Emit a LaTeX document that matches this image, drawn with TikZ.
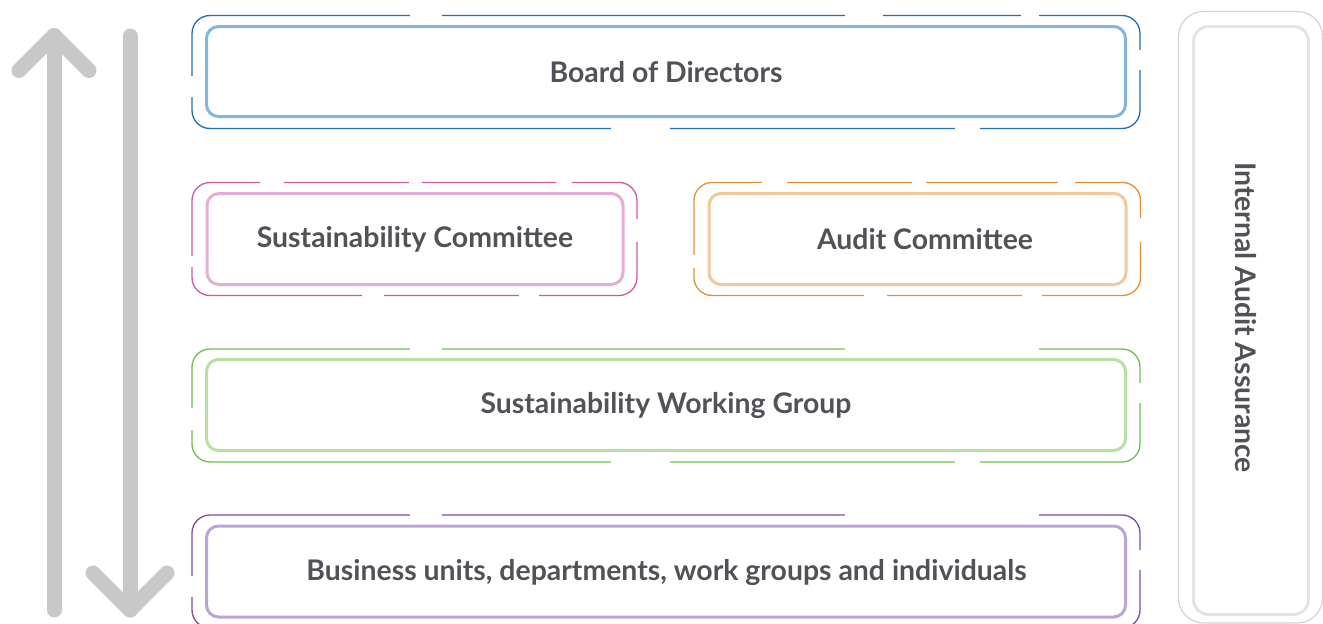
\documentclass[tikz,border=0pt]{standalone}
\usepackage{fontspec}
\setmainfont{Lato}
\definecolor{boardO}{HTML}{1F6DB4}
\definecolor{boardI}{HTML}{84B5DF}
\definecolor{scO}{HTML}{C95AA3}
\definecolor{scI}{HTML}{E5AED2}
\definecolor{acO}{HTML}{E38F35}
\definecolor{acI}{HTML}{F2C89C}
\definecolor{wgO}{HTML}{6DC04F}
\definecolor{wgI}{HTML}{B7E0A4}
\definecolor{buO}{HTML}{7A4DA5}
\definecolor{buI}{HTML}{BBA5D6}
\definecolor{panelO}{HTML}{D3D3D3}
\definecolor{panelI}{HTML}{E4E4E4}
\definecolor{arrowgray}{HTML}{C8C8C8}
\definecolor{txt}{HTML}{505257}
\tikzset{
  outerbox/.style={line width=1.3pt, rounded corners=18pt},
  innerbox/.style={draw, line width=3pt, rounded corners=12pt, inner sep=0pt},
  gap/.style={fill=white, draw=none},
  lbl/.style={text=txt, font=\bfseries\fontsize{28.4}{34}\selectfont, inner sep=0pt},
  bigarrow/.style={draw=arrowgray, line width=15pt, line cap=round, line join=round},
}
\begin{document}
\begin{tikzpicture}[x=1pt, y=-1pt]
\useasboundingbox (0,0) rectangle (1323,624);
% arrows
\coordinate (ub) at (54,610);
\coordinate (ut) at (54,35.5);
\coordinate (ul) at (19,70.5);
\coordinate (ur) at (89,70.5);
\draw[bigarrow] (ub) -- (ut);
\draw[bigarrow] (ul) -- (ut) -- (ur);
\coordinate (dt) at (130,36);
\coordinate (db) at (130,610);
\coordinate (dl) at (93,573);
\coordinate (dr) at (167,573);
\draw[bigarrow] (dt) -- (db);
\draw[bigarrow] (dl) -- (db) -- (dr);

% Board of Directors
\draw[outerbox, boardO] (192,15.5) rectangle (1140,128.5);
\fill[gap] (410,12) rectangle (442,19);
\fill[gap] (845,12) rectangle (883,19);
\fill[gap] (1021,12) rectangle (1039,19);
\fill[gap] (611,125) rectangle (670,132);
\fill[gap] (955,125) rectangle (980,132);
\fill[gap] (188,76) rectangle (196,97);
\fill[gap] (1136,50) rectangle (1144,70);
\node[innerbox, draw=boardI, minimum width=919pt, minimum height=90pt] (board) at (666,71.5) {};
\node[lbl] (boardt) at (666,72) {Board of Directors};

% Sustainability Committee
\draw[outerbox, scO] (192,182.5) rectangle (637,295.5);
\fill[gap] (260,179) rectangle (284,186);
\fill[gap] (409,179) rectangle (422,186);
\fill[gap] (556,179) rectangle (572,186);
\fill[gap] (362,292) rectangle (384,299);
\fill[gap] (519,292) rectangle (539,299);
\fill[gap] (188,256) rectangle (196,267);
\fill[gap] (633,219) rectangle (641,242);
\node[innerbox, draw=scI, minimum width=416pt, minimum height=91pt] (sc) at (415,239) {};
\node[lbl] (sct) at (415,239) {Sustainability Committee};

% Audit Committee
\draw[outerbox, acO] (694,182.5) rectangle (1140.5,295.5);
\fill[gap] (762,179) rectangle (787,186);
\fill[gap] (912,179) rectangle (926,186);
\fill[gap] (1058,179) rectangle (1075,186);
\fill[gap] (864,292) rectangle (887,299);
\fill[gap] (1022,292) rectangle (1042,299);
\fill[gap] (690,255) rectangle (698,268);
\fill[gap] (1137,218) rectangle (1145,242);
\node[innerbox, draw=acI, minimum width=417pt, minimum height=91pt] (ac) at (917.5,239) {};
\node[lbl] (act) at (925,239) {Audit Committee};

% Sustainability Working Group
\draw[outerbox, wgO] (192,349) rectangle (1140,462);
\fill[gap] (410,345) rectangle (442,353);
\fill[gap] (845,345) rectangle (1039,353);
\fill[gap] (611,458) rectangle (670,466);
\fill[gap] (955,458) rectangle (980,466);
\fill[gap] (188,408) rectangle (196,430);
\fill[gap] (1136,383) rectangle (1144,403);
\node[innerbox, draw=wgI, minimum width=919pt, minimum height=91pt] (wg) at (666,405) {};
\node[lbl] (wgt) at (666,406) {Sustainability Working Group};

% Business units
\draw[outerbox, buO] (192,515) rectangle (1140,628);
\fill[gap] (410,511) rectangle (442,519);
\fill[gap] (845,511) rectangle (1039,519);
\fill[gap] (188,576) rectangle (196,597);
\fill[gap] (1136,550) rectangle (1144,570);
\node[innerbox, draw=buI, minimum width=919pt, minimum height=91pt] (bu) at (666,571.5) {};
\node[lbl] (but) at (666.5,573) {Business units, departments, work groups and individuals};

% Internal audit panel
\draw[line width=1.2pt, panelO, rounded corners=25pt] (1178.5,11.5) rectangle (1322.5,623);
\node[innerbox, draw=panelI, rounded corners=15pt, minimum width=115pt, minimum height=588pt] (ia) at (1251,320.5) {};
\node[lbl, rotate=-90] (iat) at (1246,317.5) {Internal Audit Assurance};
\end{tikzpicture}
\end{document}
